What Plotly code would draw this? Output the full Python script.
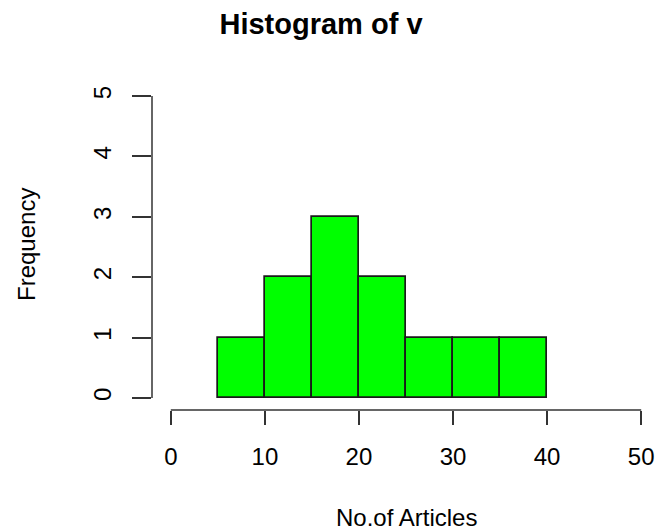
import plotly.graph_objects as go

# Data
bin_edges = [5, 10, 15, 20, 25, 30, 35, 40]
counts = [1, 2, 3, 2, 1, 1, 1]
x_ticks = [0, 10, 20, 30, 40, 50]
y_ticks = [0, 1, 2, 3, 4, 5]
title_text = "Histogram of v"
x_title = "No.of Articles"
y_title = "Frequency"

W, H = 661, 530
L, R, T, B = 152, 1, 84, 120
FONT = "Liberation Sans, Arial, sans-serif"

centers = [(a + b) / 2 for a, b in zip(bin_edges[:-1], bin_edges[1:])]
widths = [b - a for a, b in zip(bin_edges[:-1], bin_edges[1:])]

fig = go.Figure(go.Bar(
    x=centers, y=counts, width=widths,
    marker=dict(color="#00FF00", line=dict(color="#1a1a1a", width=1.7)),
    hoverinfo="skip",
))

axis_col = "#333333"
fig.update_layout(
    width=W, height=H,
    margin=dict(l=L, r=R, t=T, b=B, pad=0),
    paper_bgcolor="white", plot_bgcolor="white",
    showlegend=False,
    font=dict(family=FONT, color="black", size=24),
    title=dict(text="<b>" + title_text + "</b>", x=321 / W, xref="container", xanchor="center",
               y=1 - 24 / H, yref="container", yanchor="middle",
               font=dict(size=29, family=FONT, color="black")),
    xaxis=dict(range=[-2, 52], tickvals=x_ticks, ticktext=[str(v) for v in x_ticks],
               ticks="outside", ticklen=14, tickwidth=1.5, tickcolor=axis_col,
               showgrid=False, zeroline=False, showline=False,
               tickfont=dict(size=24, family=FONT, color="black"), ticklabelstandoff=11),
    yaxis=dict(range=[-0.2, 5.2], tickvals=y_ticks, ticktext=[str(v) for v in y_ticks],
               ticks="outside", ticklen=19, tickwidth=1.5, tickcolor=axis_col,
               showgrid=False, zeroline=False, showline=False, tickangle=-90,
               tickfont=dict(size=24, family=FONT, color="black"), ticklabelstandoff=11),
    bargap=0,
)

# axis lines spanning only the tick range (R style)
fig.add_shape(type="line", xref="x", yref="paper", x0=x_ticks[0], x1=x_ticks[-1], y0=0, y1=0,
              line=dict(color=axis_col, width=1.5))
fig.add_shape(type="line", xref="paper", yref="y", x0=0, x1=0, y0=y_ticks[0], y1=y_ticks[-1],
              line=dict(color=axis_col, width=1.5))

pw = W - L - R
ph = H - T - B
fig.add_annotation(text=x_title, xref="paper", yref="paper",
                   x=(406 - L) / pw, y=-(517 - (H - B)) / ph, xanchor="center", yanchor="middle",
                   showarrow=False, font=dict(size=24, family=FONT, color="black"))
fig.add_annotation(text=y_title, xref="paper", yref="paper", textangle=-90,
                   x=(26 - L) / pw, y=1 - (245 - T) / ph, xanchor="center", yanchor="middle",
                   showarrow=False, font=dict(size=24, family=FONT, color="black"))

fig.write_html("out.html", config={"displayModeBar": False},
               post_script="document.body.style.margin='0';document.body.style.overflow='hidden';")
